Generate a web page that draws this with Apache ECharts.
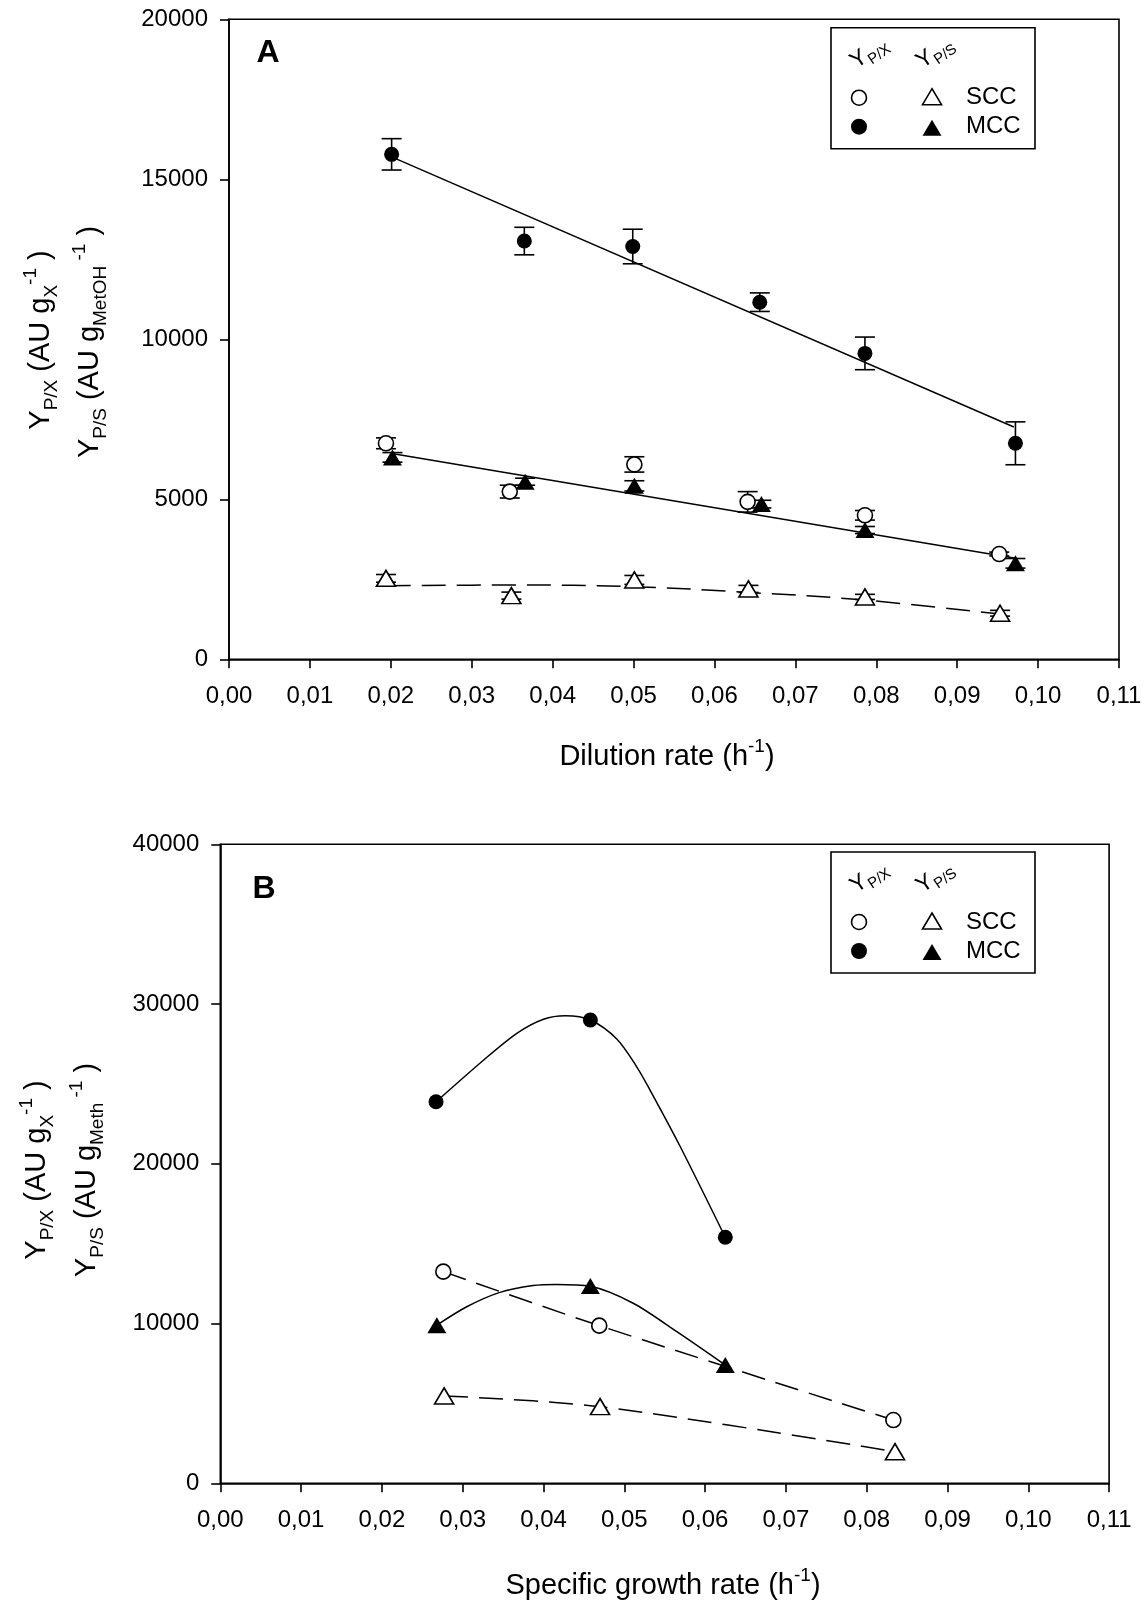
<!DOCTYPE html>
<html>
<head>
<meta charset="utf-8">
<script src="https://cdn.jsdelivr.net/npm/echarts@6/dist/echarts.min.js"></script>
<style>
  html, body { margin: 0; padding: 0; background: #fff; }
  #chart { width: 1148px; height: 1604px; }
</style>
</head>
<body>
<div id="chart"></div>
<script>
// ---------- Panel A: yields vs dilution rate (h^-1) ----------
// Y P/X, single-carbon-source culture (open circles)
const aSccPX_x = [0.0194, 0.0347, 0.0501, 0.0641, 0.0786, 0.0952];
const aSccPX_y = [6750, 5240, 6090, 4920, 4500, 3290];
const aSccPX_e = [170, 200, 240, 320, 150, 60];
// Y P/X, mixed-carbon-source culture (filled circles)
const aMccPX_x = [0.0201, 0.0365, 0.0499, 0.0656, 0.0786, 0.0972];
const aMccPX_y = [15780, 13070, 12900, 11160, 9560, 6750];
const aMccPX_e = [490, 430, 540, 290, 510, 670];
// Y P/S, single-carbon-source culture (open triangles)
const aSccPS_x = [0.0194, 0.0349, 0.0501, 0.0642, 0.0786, 0.0953];
const aSccPS_y = [2530, 1990, 2480, 2200, 1950, 1440];
const aSccPS_e = [120, 110, 140, 110, 80, 90];
// Y P/S, mixed-carbon-source culture (filled triangles)
const aMccPS_x = [0.0202, 0.0366, 0.0501, 0.0658, 0.0786, 0.0972];
const aMccPS_y = [6310, 5550, 5420, 4850, 4040, 3000];
const aMccPS_e = [150, 110, 160, 120, 110, 150];
// fitted trend lines of panel A
const aFitMccPX = [[0.0201, 15700], [0.0970, 7260]];
const aFitLower = [[0.0203, 6420], [0.0972, 3160]];
const aFitSccPS = [[0.0195, 2300], [0.0350, 2320], [0.0500, 2270], [0.0642, 2090], [0.0786, 1850], [0.0961, 1390]];

// ---------- Panel B: yields vs specific growth rate (h^-1) ----------
const bSccPX_x = [0.0276, 0.0469, 0.0833];
const bSccPX_y = [13250, 9870, 3960];
const bMccPX_x = [0.0267, 0.0458, 0.0625];
const bMccPX_y = [23880, 29000, 15400];
const bSccPS_x = [0.0277, 0.0470, 0.0835];
const bSccPS_y = [5470, 4800, 1980];
const bMccPS_x = [0.0268, 0.0458, 0.0625];
const bMccPS_y = [9900, 12350, 7400];
// curves drawn through the panel B points
const bCurveMccPX = [[0.0267, 23880], [0.0326, 26500], [0.0367, 28170], [0.0400, 29050], [0.0427, 29270], [0.0458, 29000],
                     [0.0491, 27800], [0.0515, 26100], [0.0532, 24600], [0.0569, 21100], [0.0625, 15400]];
const bCurveMccPS = [[0.0268, 9900], [0.0305, 11050], [0.0346, 11950], [0.0387, 12380], [0.0416, 12450], [0.0458, 12330],
                     [0.0511, 11270], [0.0565, 9490], [0.0625, 7400]];

// axis ticks
const xTicks = { min: 0, max: 0.11, interval: 0.01 };
const yTicksA = { min: 0, max: 20000, interval: 5000 };
const yTicksB = { min: 0, max: 40000, interval: 10000 };

const F = '"Liberation Sans", Arial, sans-serif';
const BLACK = '#000';
const zip = (xs, ys) => xs.map((x, i) => [x, ys[i]]);

function xAxisDef(gi) {
  return {
    type: 'value', gridIndex: gi, min: xTicks.min, max: xTicks.max, interval: xTicks.interval,
    axisLine: { show: true, onZero: false, lineStyle: { color: BLACK, width: 1.6 } },
    axisTick: { show: true, inside: false, length: 9, lineStyle: { color: BLACK, width: 1.6 } },
    axisLabel: { margin: 25, color: BLACK, fontSize: 24, fontFamily: F,
                 formatter: v => v.toFixed(2).replace('.', ',') },
    splitLine: { show: false }
  };
}
function yAxisDef(gi, t) {
  return {
    type: 'value', gridIndex: gi, min: t.min, max: t.max, interval: t.interval,
    axisLine: { show: true, onZero: false, lineStyle: { color: BLACK, width: 1.6 } },
    axisTick: { show: true, inside: false, length: 9, lineStyle: { color: BLACK, width: 1.6 } },
    axisLabel: { margin: 21, color: BLACK, fontSize: 24, fontFamily: F, formatter: v => String(v) },
    splitLine: { show: false }
  };
}

function errorBars(xs, ys, es, gi) {
  return {
    type: 'custom', xAxisIndex: gi, yAxisIndex: gi, z: 3, silent: true,
    data: xs.map((x, i) => [x, ys[i] - es[i], ys[i] + es[i]]),
    encode: { x: 0, y: [1, 2] },
    renderItem: function (params, api) {
      const lo = api.coord([api.value(0), api.value(1)]);
      const hi = api.coord([api.value(0), api.value(2)]);
      const w = 10;
      const st = { stroke: BLACK, lineWidth: 1.6, fill: null };
      return {
        type: 'group', children: [
          { type: 'line', shape: { x1: lo[0], y1: lo[1], x2: hi[0], y2: hi[1] }, style: st },
          { type: 'line', shape: { x1: lo[0] - w, y1: lo[1], x2: lo[0] + w, y2: lo[1] }, style: st },
          { type: 'line', shape: { x1: hi[0] - w, y1: hi[1], x2: hi[0] + w, y2: hi[1] }, style: st }
        ]
      };
    }
  };
}

function marks(name, xs, ys, gi, kind, filled) {
  const tri = kind === 'triangle';
  return {
    name: name, type: 'scatter', xAxisIndex: gi, yAxisIndex: gi, z: 5, silent: true,
    symbol: tri ? 'triangle' : 'circle',
    symbolSize: tri ? [19, 16] : 15,
    data: zip(xs, ys),
    itemStyle: { color: filled ? BLACK : '#fff', borderColor: BLACK, borderWidth: filled ? 0 : 1.6, opacity: 1 }
  };
}

function curve(data, gi, dashed, smooth) {
  return {
    type: 'line', xAxisIndex: gi, yAxisIndex: gi, z: 2, silent: true,
    data: data, symbol: 'none', showSymbol: false, smooth: smooth,
    lineStyle: { color: BLACK, width: 1.5, type: dashed ? [24, 11] : 'solid' }
  };
}

// rich styles for titles with sub/superscripts
const titleRich = {
  m:   { fontSize: 29, fontFamily: F, color: BLACK, lineHeight: 40, verticalAlign: 'middle' },
  sub: { fontSize: 19, fontFamily: F, color: BLACK, lineHeight: 19, verticalAlign: 'bottom' },
  sup: { fontSize: 19, fontFamily: F, color: BLACK, lineHeight: 19, verticalAlign: 'top' }
};
const legRich = {
  h:  { fontSize: 23, fontFamily: F, color: BLACK, lineHeight: 30, verticalAlign: 'middle' },
  hs: { fontSize: 15, fontFamily: F, color: BLACK, lineHeight: 15, verticalAlign: 'bottom' }
};

function vTitle(x, y, text) {
  return { type: 'text', x: x, y: y, rotation: Math.PI / 2, z: 10,
           style: { text: text, rich: titleRich, align: 'center', verticalAlign: 'middle' } };
}
function hTitle(x, y, text) {
  return { type: 'text', x: x, y: y, z: 10,
           style: { text: text, rich: titleRich, align: 'center', verticalAlign: 'middle' } };
}
function legendBox(top) {
  const t = (x, y, txt) => ({ type: 'text', x: x, y: top + y,
           style: { text: txt, font: '24px ' + F, fill: BLACK, align: 'left', verticalAlign: 'middle' } });
  const triShape = (cx, cy, filled) => ({ type: 'polygon',
           shape: { points: [[cx, top + cy - 8], [cx + 9.5, top + cy + 8], [cx - 9.5, top + cy + 8]] },
           style: { fill: filled ? BLACK : '#fff', stroke: BLACK, lineWidth: filled ? 0 : 1.6 } });
  return {
    type: 'group', z: 10, children: [
      { type: 'rect', shape: { x: 831, y: top, width: 204, height: 121 },
        style: { fill: '#fff', stroke: BLACK, lineWidth: 1.6 } },
      { type: 'text', x: 869, y: top + 25, rotation: 0.6,
        style: { text: '{h|Y}{hs|P/X}', rich: legRich, align: 'center', verticalAlign: 'middle' } },
      { type: 'text', x: 935, y: top + 25, rotation: 0.6,
        style: { text: '{h|Y}{hs|P/S}', rich: legRich, align: 'center', verticalAlign: 'middle' } },
      { type: 'circle', shape: { cx: 859, cy: top + 70, r: 7.5 },
        style: { fill: '#fff', stroke: BLACK, lineWidth: 1.6 } },
      triShape(932, 69, false),
      t(966, 70, 'SCC'),
      { type: 'circle', shape: { cx: 859, cy: top + 99, r: 8 }, style: { fill: BLACK } },
      triShape(932, 100, true),
      t(966, 99, 'MCC')
    ]
  };
}

const chart = echarts.init(document.getElementById('chart'), null, { renderer: 'canvas' });
chart.setOption({
  animation: false,
  backgroundColor: '#fff',
  grid: [
    { left: 229, top: 19.3, width: 890, height: 640, show: true, borderColor: BLACK, borderWidth: 1.6 },
    { left: 220.3, top: 844.3, width: 888.8, height: 639, show: true, borderColor: BLACK, borderWidth: 1.6 }
  ],
  xAxis: [xAxisDef(0), xAxisDef(1)],
  yAxis: [yAxisDef(0, yTicksA), yAxisDef(1, yTicksB)],
  series: [
    // panel A
    curve(aFitMccPX, 0, false, false),
    curve(aFitLower, 0, false, false),
    curve(aFitSccPS, 0, true, 0.4),
    errorBars(aMccPX_x, aMccPX_y, aMccPX_e, 0),
    errorBars(aSccPX_x, aSccPX_y, aSccPX_e, 0),
    errorBars(aSccPS_x, aSccPS_y, aSccPS_e, 0),
    errorBars(aMccPS_x, aMccPS_y, aMccPS_e, 0),
    marks('MCC Y P/X', aMccPX_x, aMccPX_y, 0, 'circle', true),
    marks('SCC Y P/X', aSccPX_x, aSccPX_y, 0, 'circle', false),
    marks('SCC Y P/S', aSccPS_x, aSccPS_y, 0, 'triangle', false),
    marks('MCC Y P/S', aMccPS_x, aMccPS_y, 0, 'triangle', true),
    // panel B
    curve(bCurveMccPX, 1, false, 0.3),
    curve(bCurveMccPS, 1, false, 0.3),
    curve(zip(bSccPX_x, bSccPX_y), 1, true, 0.3),
    curve(zip(bSccPS_x, bSccPS_y), 1, true, 0.3),
    marks('MCC Y P/X', bMccPX_x, bMccPX_y, 1, 'circle', true),
    marks('SCC Y P/X', bSccPX_x, bSccPX_y, 1, 'circle', false),
    marks('SCC Y P/S', bSccPS_x, bSccPS_y, 1, 'triangle', false),
    marks('MCC Y P/S', bMccPS_x, bMccPS_y, 1, 'triangle', true)
  ],
  graphic: [
    { type: 'text', x: 268, y: 53, z: 10,
      style: { text: 'A', font: 'bold 32px ' + F, fill: BLACK, align: 'center', verticalAlign: 'middle' } },
    { type: 'text', x: 264, y: 889, z: 10,
      style: { text: 'B', font: 'bold 32px ' + F, fill: BLACK, align: 'center', verticalAlign: 'middle' } },
    legendBox(27.7),
    legendBox(852),
    vTitle(41, 340, '{m|Y}{sub|P/X}{m| (AU g}{sub|X}{sup|-1}{m| )}'),
    vTitle(90, 342, '{m|Y}{sub|P/S}{m| (AU g}{sub|MetOH}{sup| -1}{m| )}'),
    vTitle(37, 1170, '{m|Y}{sub|P/X}{m| (AU g}{sub|X}{sup|-1}{m| )}'),
    vTitle(87, 1170, '{m|Y}{sub|P/S}{m| (AU g}{sub|Meth}{sup| -1}{m| )}'),
    hTitle(667, 757, '{m|Dilution rate (h}{sup|-1}{m|)}'),
    hTitle(663, 1586, '{m|Specific growth rate (h}{sup|-1}{m|)}')
  ]
});
</script>
</body>
</html>
